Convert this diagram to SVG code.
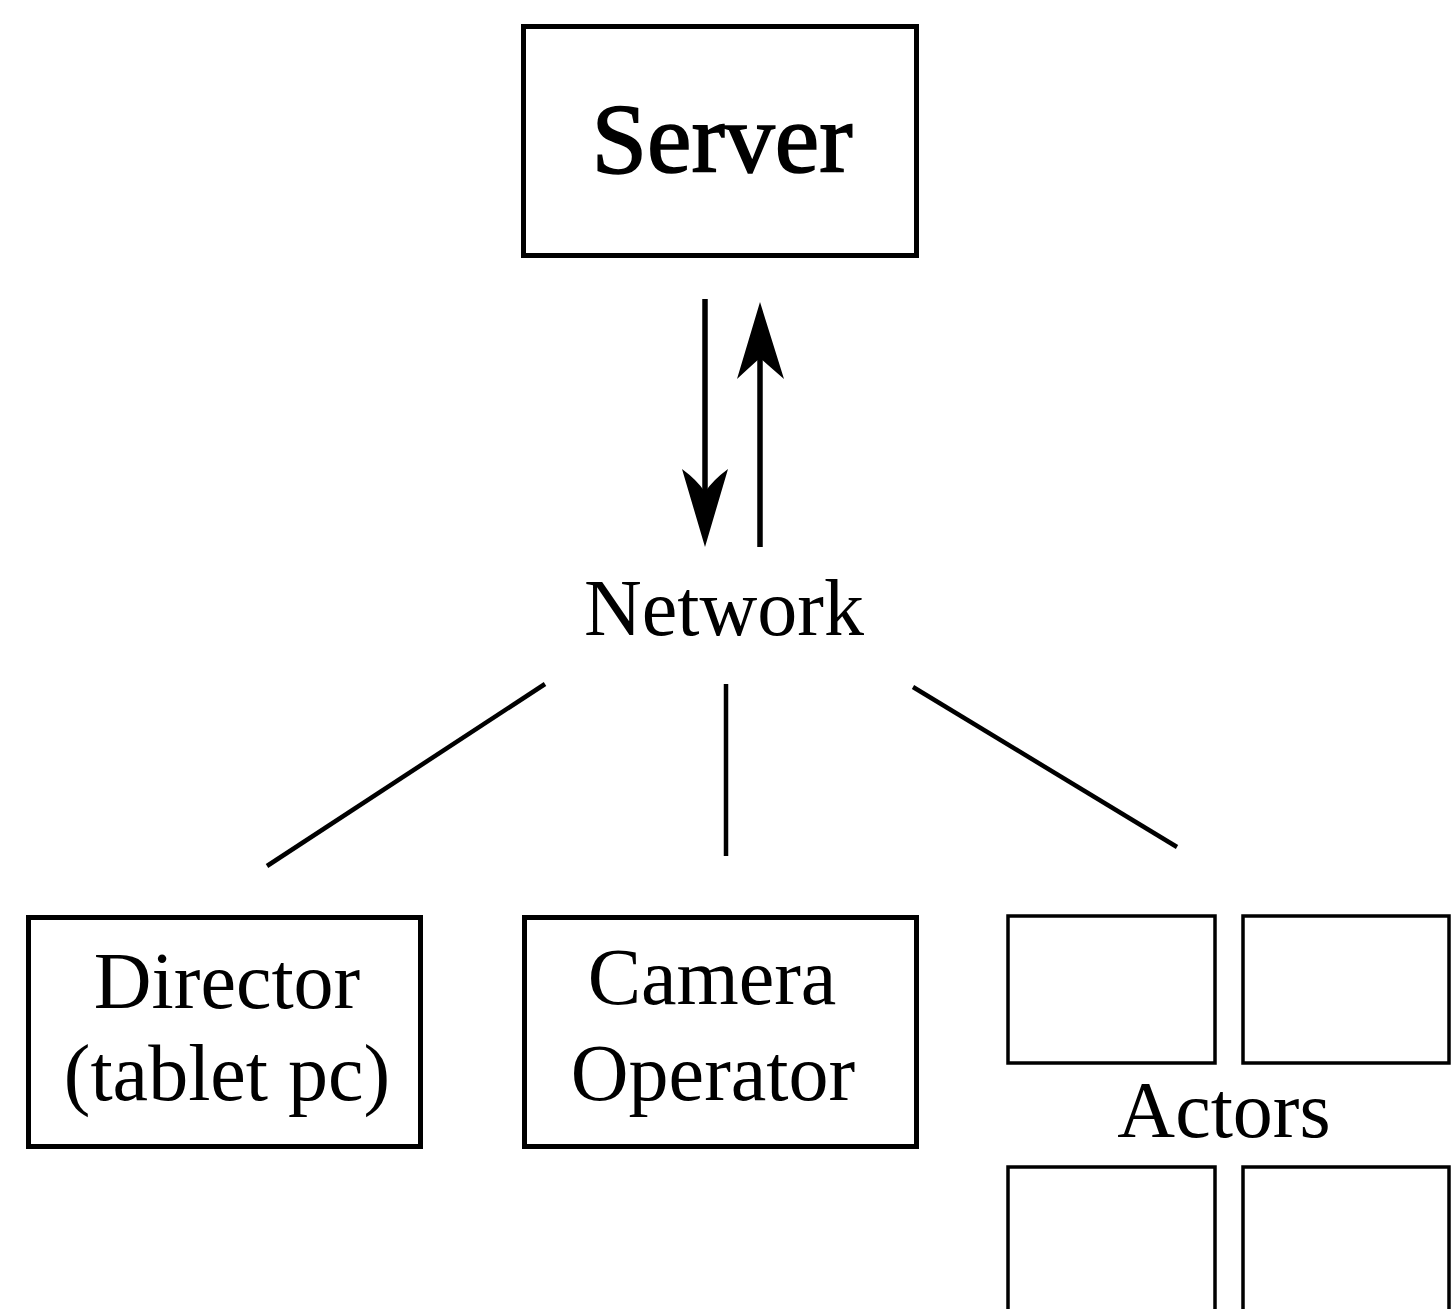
<svg xmlns="http://www.w3.org/2000/svg" width="1456" height="1309" viewBox="0 0 1456 1309">
  <style>
    .box { fill: #fff; stroke: #000; stroke-width: 5; }
    .cell { fill: #fff; stroke: #000; stroke-width: 3.5; }
    .label { font-family: "Liberation Serif", "Times New Roman", serif; font-size: 80px; fill: #000; text-anchor: middle; }
    .big { font-size: 100px; stroke: #000; stroke-width: 1.6; }
    .wire { stroke: #000; stroke-width: 4.5; fill: none; }
    .shaft { stroke: #000; stroke-width: 5.5; fill: none; }
    .head { fill: #000; stroke: none; }
  </style>
  <rect width="1456" height="1309" fill="#fff"/>

  <g id="server">
    <rect class="box" x="523.5" y="26.5" width="393" height="229"/>
    <text class="label big" x="722" y="172">Server</text>
  </g>

  <g id="network">
    <text class="label" x="724" y="635">Network</text>
  </g>

  <g id="director">
    <rect class="box" x="28.5" y="917.5" width="392" height="229"/>
    <text class="label" x="227" y="1008">Director</text>
    <text class="label" x="227" y="1100">(tablet pc)</text>
  </g>

  <g id="camera-operator">
    <rect class="box" x="524.5" y="917.5" width="392" height="229"/>
    <text class="label" x="712" y="1004">Camera</text>
    <text class="label" x="713" y="1100">Operator</text>
  </g>

  <g id="actors">
    <rect class="cell" x="1008" y="916" width="207" height="147"/>
    <rect class="cell" x="1243" y="916" width="206" height="147"/>
    <rect class="cell" x="1008" y="1167" width="207" height="160"/>
    <rect class="cell" x="1243" y="1167" width="206" height="160"/>
    <text class="label" x="1224" y="1137">Actors</text>
  </g>

  <g id="connectors">
    <!-- server to network -->
    <line class="shaft" x1="705" y1="299" x2="705" y2="500"/>
    <path class="head" d="M705,547 L682,469 Q697,480 705,492 Q713,480 728,469 Z"/>
    <!-- network to server -->
    <line class="shaft" x1="760" y1="547" x2="760" y2="350"/>
    <path class="head" d="M760,302 L737,379 Q751,366 760,358 Q769,366 784,379 Z"/>
    <!-- network to clients -->
    <line class="wire" x1="545" y1="684" x2="267" y2="866"/>
    <line class="wire" x1="726" y1="684" x2="726" y2="856"/>
    <line class="wire" x1="913" y1="687" x2="1177" y2="847"/>
  </g>
</svg>
